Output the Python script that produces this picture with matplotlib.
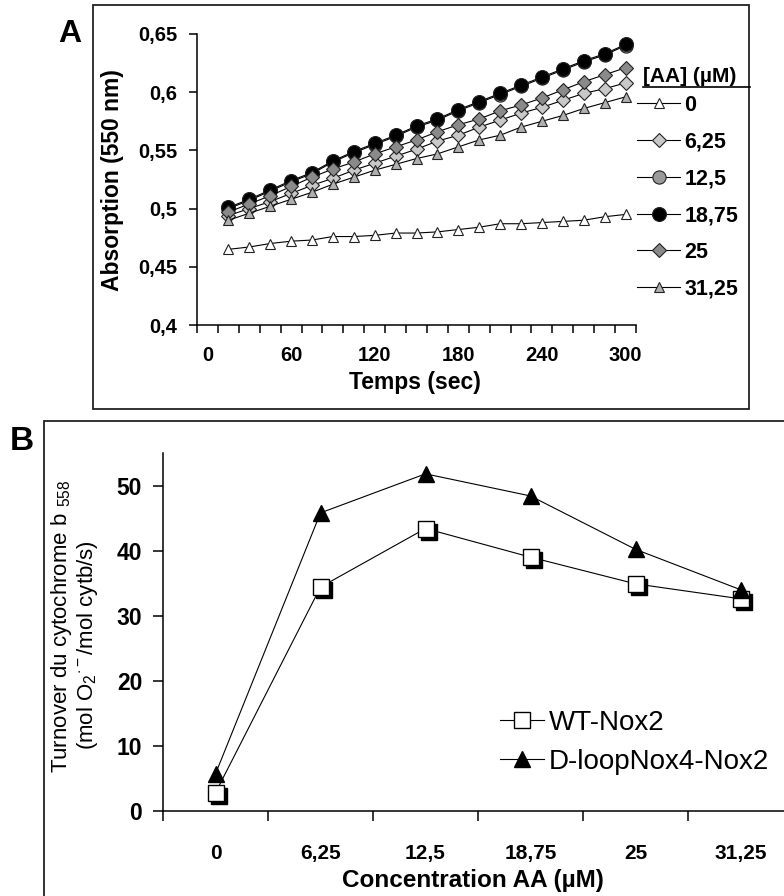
import matplotlib
matplotlib.use('Agg')
import matplotlib.pyplot as plt
from matplotlib.lines import Line2D
from matplotlib.patches import Rectangle
from matplotlib.transforms import offset_copy

plt.rcParams['font.family'] = ['Liberation Sans', 'DejaVu Sans']
plt.rcParams['mathtext.fontset'] = 'custom'
plt.rcParams['mathtext.rm'] = 'Liberation Sans'
plt.rcParams['mathtext.it'] = 'Liberation Sans:italic'
plt.rcParams['mathtext.bf'] = 'Liberation Sans:bold'

# ---- panel A data : absorption vs time ----
temps = [15, 30, 45, 60, 75, 90, 105, 120, 135, 150,
         165, 180, 195, 210, 225, 240, 255, 270, 285, 300]
aa_labels = ['0', '6,25', '12,5', '18,75', '25', '31,25']
abs_0 = [0.465, 0.467, 0.470, 0.472, 0.473, 0.476, 0.476, 0.477, 0.479, 0.479,
         0.480, 0.482, 0.484, 0.487, 0.487, 0.488, 0.489, 0.490, 0.493, 0.495]
abs_6 = [0.494, 0.500, 0.506, 0.513, 0.520, 0.526, 0.533, 0.539, 0.545, 0.551,
         0.558, 0.563, 0.570, 0.576, 0.582, 0.587, 0.593, 0.599, 0.603, 0.608]
abs_12 = [0.500, 0.507, 0.515, 0.523, 0.530, 0.540, 0.548, 0.555, 0.562, 0.570,
          0.576, 0.584, 0.591, 0.598, 0.605, 0.612, 0.619, 0.626, 0.632, 0.640]
abs_18 = [0.501, 0.508, 0.516, 0.524, 0.531, 0.541, 0.549, 0.556, 0.563, 0.571,
          0.577, 0.585, 0.592, 0.599, 0.606, 0.613, 0.620, 0.627, 0.633, 0.641]
abs_25 = [0.497, 0.504, 0.511, 0.519, 0.527, 0.534, 0.540, 0.547, 0.553, 0.559,
          0.566, 0.572, 0.577, 0.584, 0.589, 0.595, 0.602, 0.609, 0.615, 0.621]
abs_31 = [0.490, 0.496, 0.502, 0.508, 0.514, 0.521, 0.527, 0.533, 0.538, 0.543,
          0.547, 0.553, 0.559, 0.563, 0.570, 0.575, 0.580, 0.586, 0.591, 0.596]

# ---- panel B data : turnover vs AA concentration ----
conc_labels = ['0', '6,25', '12,5', '18,75', '25', '31,25']
wt_nox2 = [2.8, 34.4, 43.4, 39.0, 34.9, 32.6]
dloop_nox2 = [5.7, 45.8, 51.8, 48.4, 40.2, 34.0]

W, H = 784, 896
fig = plt.figure(figsize=(W / 100, H / 100), dpi=100)


def fx(px):
    return px / W


def fy(py):
    return 1 - py / H


# panel frames
fig.add_artist(Rectangle((fx(93), fy(409)), fx(749) - fx(93), fy(5) - fy(409),
                         transform=fig.transFigure, fill=False, lw=1.3, ec='#222222'))
fig.add_artist(Rectangle((fx(44), -0.02), 1.0, fy(421) + 0.02,
                         transform=fig.transFigure, fill=False, lw=1.3, ec='#222222'))
fig.text(fx(70), fy(34), 'A', fontsize=23, fontweight='bold', ha='center', va='center')
fig.text(fx(22), fy(441), 'B', fontsize=24, fontweight='bold', ha='center', va='center')

# ================= panel A =================
axA = fig.add_axes([fx(197), fy(325), fx(636) - fx(197), fy(34) - fy(325)])
series = [
    (abs_0, '^', 'white', 7.5),
    (abs_6, 'D', '#c8c8c8', 7.5),
    (abs_12, 'o', '#9a9a9a', 9.5),
    (abs_18, 'o', 'black', 10),
    (abs_25, 'D', '#8a8a8a', 7.5),
    (abs_31, '^', '#b0b0b0', 7.5),
]
handles = []
for (vals, mk, col, ms), lab in zip(series, aa_labels):
    ln, = axA.plot(temps, vals, color='black', lw=0.8, marker=mk, ms=ms,
                   mfc=col, mec='#222222', mew=0.8, label=lab)
    handles.append(ln)

axA.set_xlim(-7.5, 307.5)
axA.set_ylim(0.4, 0.65)
axA.set_xticks([0, 60, 120, 180, 240, 300])
axA.set_xticks([-7.5 + 15 * k for k in range(22)], minor=True)
axA.set_yticks([0.4, 0.45, 0.5, 0.55, 0.6, 0.65])
axA.set_yticklabels(['0,4', '0,45', '0,5', '0,55', '0,6', '0,65'])
axA.tick_params(axis='x', which='major', length=0, pad=15)
axA.tick_params(axis='x', which='minor', length=6, width=1.1, direction='out')
axA.tick_params(axis='y', length=6, width=1.1, direction='out', pad=8)
for lbl in axA.get_xticklabels() + axA.get_yticklabels():
    lbl.set_fontsize(14.5)
    lbl.set_fontweight('bold')
for s in ['top', 'right']:
    axA.spines[s].set_visible(False)
for s in ['left', 'bottom']:
    axA.spines[s].set_linewidth(1.1)
axA.set_xlabel('Temps (sec)', fontsize=16.5, fontweight='bold')
axA.xaxis.set_label_coords((415 - 197) / 439, -(383 - 325) / 291)
axA.xaxis.label.set_va('center')
axA.set_ylabel('Absorption (550 nm)', fontsize=16.5, fontweight='bold')
axA.yaxis.label.set_va('center')
axA.yaxis.set_label_coords(-(197 - 113) / 439, (325 - 180) / 291)

fig.text(fx(643), fy(76), '[AA] (µM)', fontsize=15, fontweight='bold',
         ha='left', va='center')
fig.add_artist(Line2D([fx(643), fx(750)], [fy(87), fy(87)], transform=fig.transFigure,
                      color='black', lw=1.2))
fig.legend(handles=handles, labels=aa_labels, loc='upper left',
           bbox_to_anchor=(fx(637), fy(95)), frameon=False,
           prop={'weight': 'bold', 'size': 15.5}, handlelength=2.0,
           handletextpad=0.2, labelspacing=0.73, borderpad=0, borderaxespad=0)

# ================= panel B =================
axB = fig.add_axes([fx(163), fy(811), fx(793) - fx(163), fy(453) - fy(811)])
xpos = list(range(len(conc_labels)))
shadow = offset_copy(axB.transData, fig=fig, x=3, y=-3, units='dots')
axB.plot(xpos, wt_nox2, ls='none', marker='s', ms=12, color='black', transform=shadow)
hwt, = axB.plot(xpos, wt_nox2, color='black', lw=0.8, marker='s', ms=12,
                mfc='white', mec='black', mew=1.0)
hdl, = axB.plot(xpos, dloop_nox2, color='black', lw=0.8, marker='^', ms=12,
                mfc='black', mec='black')
axB.set_xlim(-0.5, 5.5)
axB.set_ylim(0, 55)
axB.set_xticks(xpos)
axB.set_xticklabels(conc_labels)
axB.set_xticks([k - 0.5 for k in range(7)], minor=True)
axB.set_yticks([0, 10, 20, 30, 40, 50])
axB.tick_params(axis='x', which='major', length=0, pad=24)
axB.tick_params(axis='x', which='minor', length=7, width=1.1, direction='out')
axB.tick_params(axis='y', length=7, width=1.1, direction='out', pad=8)
for lbl in axB.get_xticklabels():
    lbl.set_fontsize(15)
    lbl.set_fontweight('bold')
for lbl in axB.get_yticklabels():
    lbl.set_fontsize(16.5)
    lbl.set_fontweight('bold')
for s in ['top', 'right']:
    axB.spines[s].set_visible(False)
for s in ['left', 'bottom']:
    axB.spines[s].set_linewidth(1.1)
axB.set_xlabel('Concentration AA (µM)', fontsize=17.5, fontweight='bold')
axB.xaxis.label.set_va('center')
axB.xaxis.set_label_coords((473 - 163) / 630, -(880 - 811) / 358)

fig.text(fx(62), fy(626), r'Turnover du cytochrome b $_{558}$', fontsize=16,
         rotation=90, ha='center', va='center')
fig.text(fx(87), fy(645), r'(mol O$_2$$^{\cdot -}$/mol cytb/s)', fontsize=16,
         rotation=90, ha='center', va='center')

fig.legend(handles=[hwt, hdl], labels=['WT-Nox2', 'D-loopNox4-Nox2'], loc='upper left',
           bbox_to_anchor=(fx(500), fy(710)), frameon=False, fontsize=20,
           handlelength=1.6, handletextpad=0.15, labelspacing=0.45,
           borderpad=0, borderaxespad=0)

fig.savefig('out.png', dpi=100)
